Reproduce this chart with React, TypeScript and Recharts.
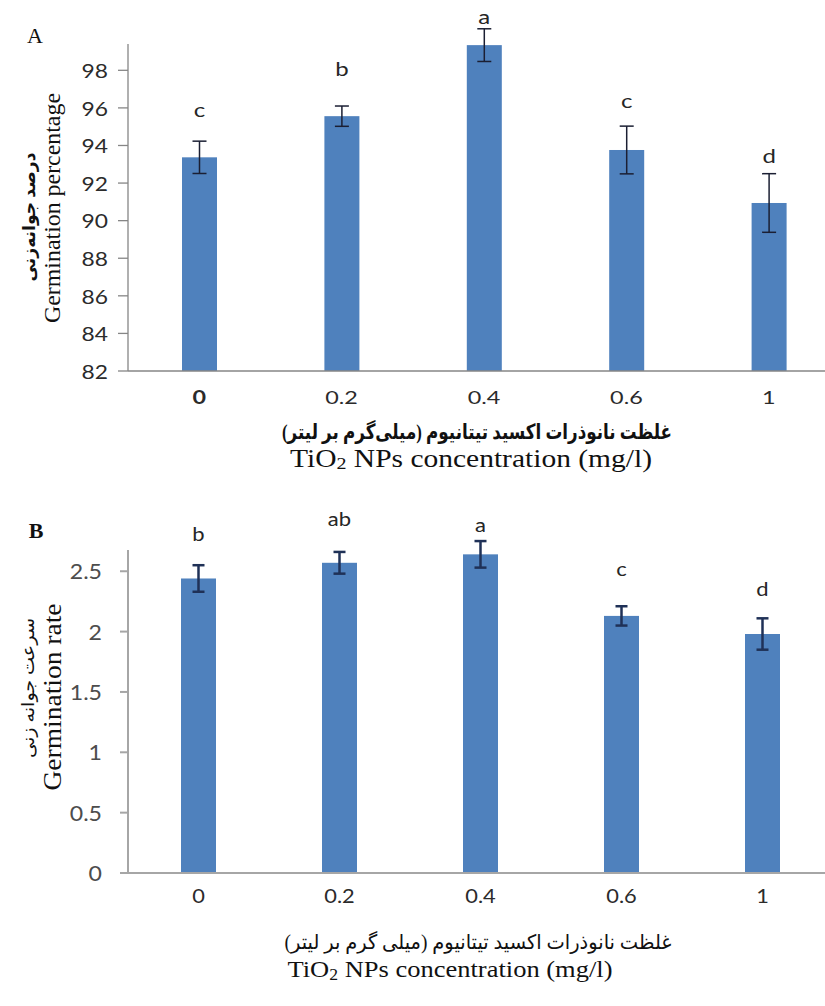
import { BarChart, Bar, XAxis, YAxis } from "recharts";

const doses = ["0", "0.2", "0.4", "0.6", "1"];

// panel A: germination percentage
const germPercent = [93.37, 95.56, 99.34, 93.76, 90.94];
const germPercentErr = [0.86, 0.54, 0.87, 1.27, 1.56];
const germPercentLetters = ["c", "b", "a", "c", "d"];
const germPercentLetterAt = [95.9, 98.1, 100.9, 96.4, 93.5];
const germPercentTicks = [82, 84, 86, 88, 90, 92, 94, 96, 98];

// panel B: germination rate
const germRate = [2.44, 2.57, 2.64, 2.13, 1.98];
const germRateErr = [0.11, 0.09, 0.11, 0.08, 0.13];
const germRateLetters = ["b", "ab", "a", "c", "d"];
const germRateLetterAt = [2.82, 2.945, 2.89, 2.53, 2.365];
const germRateTicks = [0, 0.5, 1, 1.5, 2, 2.5];

const BAR = "#4f81bd";
const SANS = "Lato, 'Open Sans', sans-serif";
const SERIF = "'Liberation Serif', 'DejaVu Sans', serif";

const rows = (vals: number[], errs: number[], letters: string[], at: number[]) =>
  doses.map((dose, i) => ({ dose, value: vals[i], err: errs[i], letter: letters[i], letterAt: at[i] }));

const dataA = rows(germPercent, germPercentErr, germPercentLetters, germPercentLetterAt);
const dataB = rows(germRate, germRateErr, germRateLetters, germRateLetterAt);

type Look = {
  min: number;
  errColor: string;
  errWidth: number;
  cap: number;
  stretch: number;
  letterSize: number;
  letterColor: string;
};

// bar + error whisker + significance letter, all placed from the bar's own geometry
const barShape = (look: Look) => (props: any) => {
  const { x, y, width, height, payload } = props;
  const base = y + height;
  const k = height / (payload.value - look.min);
  const cx = x + width / 2;
  const top = base - (payload.value + payload.err - look.min) * k;
  const bot = base - (payload.value - payload.err - look.min) * k;
  const ly = base - (payload.letterAt - look.min) * k;
  return (
    <g>
      <rect x={x} y={y} width={width} height={height} fill={BAR} />
      <line x1={cx} x2={cx} y1={top} y2={bot} stroke={look.errColor} strokeWidth={look.errWidth} />
      <line x1={cx - look.cap} x2={cx + look.cap} y1={top} y2={top} stroke={look.errColor} strokeWidth={look.errWidth} />
      <line x1={cx - look.cap} x2={cx + look.cap} y1={bot} y2={bot} stroke={look.errColor} strokeWidth={look.errWidth} />
      <text
        transform={`translate(${cx},${ly}) scale(${look.stretch},1)`}
        textAnchor="middle"
        dominantBaseline="central"
        fontFamily={SANS}
        fontSize={look.letterSize}
        fill={look.letterColor}
      >
        {payload.letter}
      </text>
    </g>
  );
};

const yTick = (stretch: number, size: number, color: string) => (props: any) => {
  const { x, y, payload } = props;
  return (
    <text
      transform={`translate(${x},${y}) scale(${stretch},1)`}
      textAnchor="end"
      dominantBaseline="central"
      fontFamily={SANS}
      fontSize={size}
      fill={color}
    >
      {payload.value}
    </text>
  );
};

const xTick = (stretch: number, size: number, color: string, dy: number, boldFirst: boolean) => (props: any) => {
  const { x, y, payload, index } = props;
  return (
    <text
      transform={`translate(${x},${y + dy}) scale(${stretch},1)`}
      textAnchor="middle"
      dominantBaseline="central"
      fontFamily={SANS}
      fontSize={size}
      fontWeight={boldFirst && index === 0 ? 700 : 400}
      fill={color}
    >
      {payload.value}
    </text>
  );
};

function PanelA() {
  return (
    <BarChart width={860} height={500} data={dataA} margin={{ top: 44, right: 20, left: 0, bottom: 99 }}>
      <XAxis
        dataKey="dose"
        height={30}
        tickLine={false}
        tickSize={0}
        tickMargin={0}
        axisLine={{ stroke: "#868686", strokeWidth: 1.3 }}
        tick={xTick(1.3, 18, "#2b2b2b", 26, true)}
        interval={0}
      />
      <YAxis
        width={128}
        type="number"
        domain={[82, 99.4]}
        ticks={germPercentTicks}
        tickSize={10}
        tickMargin={10}
        axisLine={{ stroke: "#868686", strokeWidth: 1.3 }}
        tickLine={{ stroke: "#868686", strokeWidth: 1.3 }}
        tick={yTick(1.2, 19, "#2b2b2b")}
      />
      <Bar
        dataKey="value"
        barSize={35}
        isAnimationActive={false}
        shape={barShape({ min: 82, errColor: "#1b1f33", errWidth: 1.5, cap: 7, stretch: 1.2, letterSize: 20, letterColor: "#262626" })}
      />
    </BarChart>
  );
}

function PanelB() {
  return (
    <BarChart width={860} height={506} data={dataB} margin={{ top: 50, right: 27, left: 0, bottom: 103 }}>
      <XAxis
        dataKey="dose"
        height={30}
        tickLine={false}
        tickSize={0}
        tickMargin={0}
        axisLine={{ stroke: "#a6a6a6", strokeWidth: 2 }}
        tick={xTick(1.15, 19, "#2b2b2b", 23, false)}
        interval={0}
      />
      <YAxis
        width={128}
        type="number"
        domain={[0, 2.676]}
        ticks={germRateTicks}
        tickSize={8}
        tickMargin={18}
        axisLine={{ stroke: "#a6a6a6", strokeWidth: 2 }}
        tickLine={{ stroke: "#a6a6a6", strokeWidth: 2 }}
        tick={yTick(1.1, 21, "#4d4d4d")}
      />
      <Bar
        dataKey="value"
        barSize={35}
        isAnimationActive={false}
        shape={barShape({ min: 0, errColor: "#1f3157", errWidth: 2.5, cap: 6, stretch: 1.1, letterSize: 20, letterColor: "#262626" })}
      />
    </BarChart>
  );
}

export default function App() {
  return (
    <div style={{ position: "absolute", left: 0, top: 0, width: 825, height: 1006, overflow: "hidden", background: "#fff" }}>
      <div style={{ position: "absolute", left: 0, top: 0 }}>
        <PanelA />
      </div>
      <div style={{ position: "absolute", left: 0, top: 500 }}>
        <PanelB />
      </div>
      <svg width={825} height={1006} style={{ position: "absolute", left: 0, top: 0, pointerEvents: "none" }}>
        <text x={35} y={35} textAnchor="middle" dominantBaseline="central" fontFamily={SERIF} fontSize={22} fill="#111">
          A
        </text>
        <text x={36} y={530} textAnchor="middle" dominantBaseline="central" fontFamily={SERIF} fontSize={22} fontWeight={700} fill="#111">
          B
        </text>

        {/* panel A axis titles */}
        <text transform="translate(52,208) rotate(-90)" textAnchor="middle" dominantBaseline="central" fontFamily={SERIF} fontSize={24} fill="#111" textLength={230} lengthAdjust="spacingAndGlyphs">
          Germination percentage
        </text>
        <text transform="translate(29,217) rotate(-90)" textAnchor="middle" dominantBaseline="central" fontFamily={SERIF} fontSize={17} fontWeight={700} fill="#111" direction="rtl" textLength={129} lengthAdjust="spacingAndGlyphs">
          درصد جوانه‌زنی
        </text>
        <text x={477} y={432} textAnchor="middle" dominantBaseline="central" fontFamily={SERIF} fontSize={21} fontWeight={700} fill="#111" direction="rtl" textLength={390} lengthAdjust="spacingAndGlyphs">
          غلظت نانوذرات اکسید تیتانیوم (میلی‌گرم بر لیتر)
        </text>
        <text x={471} y={458} textAnchor="middle" dominantBaseline="central" fontFamily={SERIF} fontSize={25} fill="#111" textLength={362} lengthAdjust="spacingAndGlyphs">
          TiO<tspan fontSize={17} dy={5}>2</tspan><tspan dy={-5}> NPs concentration (mg/l)</tspan>
        </text>

        {/* panel B axis titles */}
        <text transform="translate(52,697) rotate(-90)" textAnchor="middle" dominantBaseline="central" fontFamily={SERIF} fontSize={26} fill="#111" textLength={187} lengthAdjust="spacingAndGlyphs">
          Germination rate
        </text>
        <text transform="translate(28,688) rotate(-90)" textAnchor="middle" dominantBaseline="central" fontFamily={SERIF} fontSize={17} fill="#111" direction="rtl" textLength={140} lengthAdjust="spacingAndGlyphs">
          سرعت جوانه زنی
        </text>
        <text x={478} y={942} textAnchor="middle" dominantBaseline="central" fontFamily={SERIF} fontSize={20} fill="#111" direction="rtl" textLength={387} lengthAdjust="spacingAndGlyphs">
          غلظت نانوذرات اکسید تیتانیوم (میلی گرم بر لیتر)
        </text>
        <text x={450} y={969} textAnchor="middle" dominantBaseline="central" fontFamily={SERIF} fontSize={24} fill="#111" textLength={325} lengthAdjust="spacingAndGlyphs">
          TiO<tspan fontSize={16} dy={5}>2</tspan><tspan dy={-5}> NPs concentration (mg/l)</tspan>
        </text>
      </svg>
    </div>
  );
}
